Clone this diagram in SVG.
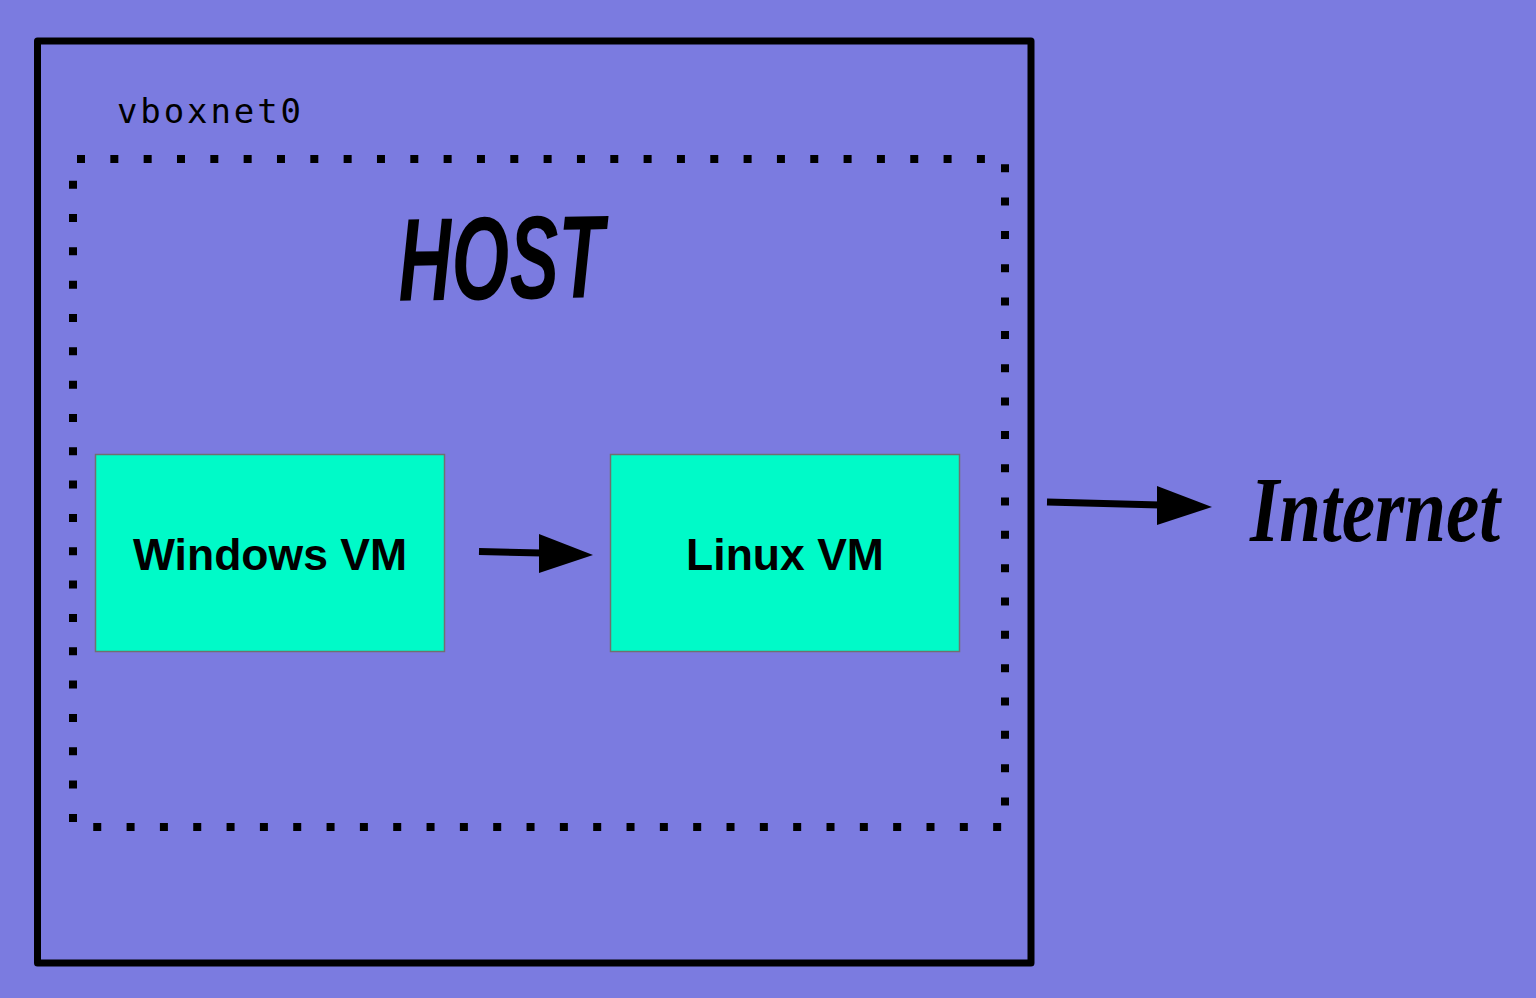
<svg xmlns="http://www.w3.org/2000/svg" width="1536" height="998" viewBox="0 0 1536 998">
  <style>
    .vm rect { fill: #00fac8; stroke: #707070; stroke-width: 1.5; }
    .vm text { font-family: "Liberation Sans", Arial, sans-serif; font-weight: bold; font-size: 44.5px; fill: #000; text-anchor: middle; }
    .conn line { stroke: #000; stroke-width: 7; }
    .conn polygon { fill: #000; }
  </style>
  <rect x="0" y="0" width="1536" height="998" fill="#7b7be0"/>
  <g id="host-frame">
    <rect x="37.5" y="41" width="993.5" height="922" fill="none" stroke="#000" stroke-width="7" stroke-linejoin="round"/>
  </g>
  <g id="vboxnet0">
    <rect x="73" y="159" width="932" height="668" fill="none" stroke="#000" stroke-width="8" stroke-dasharray="8 25.33" stroke-dashoffset="-4"/>
    <text x="117" y="123" font-family="'DejaVu Sans Mono', monospace" font-size="34" textLength="184" lengthAdjust="spacing" fill="#000">vboxnet0</text>
  </g>
  <g id="host-label">
    <text x="398" y="299" font-family="'Liberation Sans', Arial, sans-serif" font-weight="bold" font-style="italic" font-size="118" textLength="206" lengthAdjust="spacingAndGlyphs" fill="#000" transform="rotate(-1 500 256)">HOST</text>
  </g>
  <g id="windows-vm" class="vm">
    <rect x="95.5" y="454.5" width="349" height="197"/>
    <text x="270" y="570">Windows VM</text>
  </g>
  <g id="linux-vm" class="vm">
    <rect x="610.5" y="454.5" width="349" height="197"/>
    <text x="785" y="570">Linux VM</text>
  </g>
  <g id="internet">
    <text x="0" y="0" transform="translate(1250 541) scale(1 1.25)" font-family="'Liberation Serif', serif" font-weight="bold" font-style="italic" font-size="75" fill="#000">Internet</text>
  </g>
  <g id="connectors" class="conn">
    <line x1="479" y1="551.5" x2="542" y2="553"/>
    <polygon points="539,534 593,555 539,573"/>
    <line x1="1047" y1="502" x2="1160" y2="505"/>
    <polygon points="1157,486 1212,507 1157,525"/>
  </g>
</svg>
